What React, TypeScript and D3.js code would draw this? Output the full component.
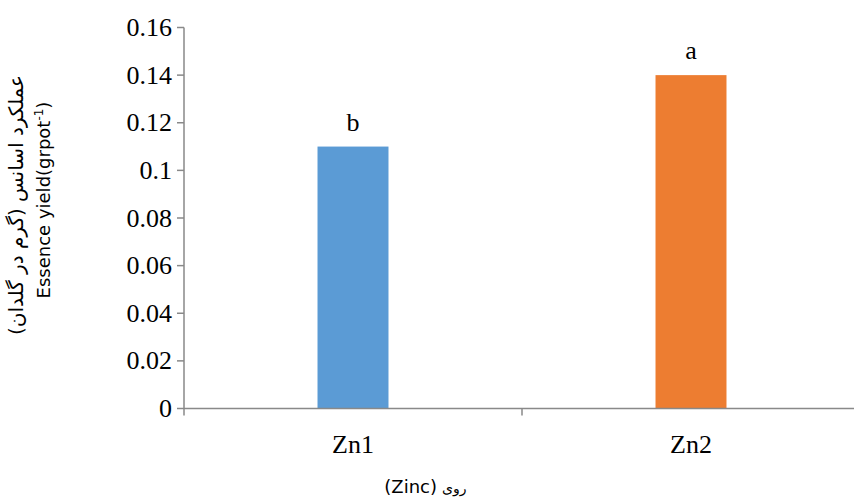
import React from "react";
import * as d3 from "d3";

const categories = ["Zn1", "Zn2"];
const values = [0.11, 0.14];
const letters = ["b", "a"];
const colors = ["#5B9BD5", "#ED7D31"];
const yTicks = [0, 0.02, 0.04, 0.06, 0.08, 0.1, 0.12, 0.14, 0.16];
const yTitleFa = "عملکرد اسانس (گرم در گلدان)";
const yTitleEn = "Essence yield(grpot";
const xTitleEn = "(Zinc)";
const xTitleFa = "روی";

export default function App() {
  const W = 854, H = 499;
  const left = 184, right = 860, top = 27.5, bottom = 408.5;
  const x = d3.scaleBand<string>().domain(categories).range([left, right]).paddingInner(0).paddingOuter(0);
  const y = d3.scaleLinear().domain([0, 0.16]).range([bottom, top]);
  const bw = x.bandwidth() * 0.21;
  const axisColor = "#898989";
  const serif = "'Liberation Serif', 'Times New Roman', serif";
  const sans = "'DejaVu Sans', 'Noto Sans', sans-serif";
  const fmt = (v: number) => (v === 0 ? "0" : String(+v.toFixed(2)));
  const fs = 26;
  return (
    <svg width={W} height={H} style={{ position: "absolute", left: 0, top: 0, background: "#fff" }}>
      <rect width={W} height={H} fill="#fff" />
      {categories.map((c, i) => {
        const cx = x(c)! + x.bandwidth() / 2;
        return (
          <g key={c}>
            <rect x={cx - bw / 2} y={y(values[i])} width={bw} height={bottom - y(values[i])} fill={colors[i]} />
            <text x={cx} y={y(values[i]) - 16} textAnchor="middle" fontFamily={serif} fontSize={fs} fill="#000">
              {letters[i]}
            </text>
            <text x={cx} y={bottom + 44} textAnchor="middle" fontFamily={serif} fontSize={fs} fill="#000">
              {c}
            </text>
          </g>
        );
      })}
      <line x1={left} x2={left} y1={top} y2={bottom} stroke={axisColor} strokeWidth={1.5} />
      {yTicks.map((t) => (
        <g key={t}>
          <line x1={left - 7} x2={left} y1={y(t)} y2={y(t)} stroke={axisColor} strokeWidth={1.5} />
          <text x={left - 12} y={y(t)} dy="0.33em" textAnchor="end" fontFamily={serif} fontSize={fs} fill="#000">
            {fmt(t)}
          </text>
        </g>
      ))}
      <line x1={left} x2={right} y1={bottom} y2={bottom} stroke={axisColor} strokeWidth={1.5} />
      {[left, x(categories[1])!].map((px, i) => (
        <line key={i} x1={px} x2={px} y1={bottom} y2={bottom + 7} stroke={axisColor} strokeWidth={1.5} />
      ))}
      <text
        transform={`translate(23, 205) rotate(-90)`}
        textAnchor="middle"
        fontFamily={sans}
        fontSize={20}
        fill="#000"
        style={{ direction: "rtl", unicodeBidi: "embed" } as any}
      >
        {yTitleFa}
      </text>
      <text transform={`translate(50, 200) rotate(-90)`} textAnchor="middle" fontFamily={sans} fontSize={18} fill="#000">
        {yTitleEn}
        <tspan fontSize={12} dy={-7}>-1</tspan>
        <tspan dy={7}>)</tspan>
      </text>
      <text x={437} y={493} textAnchor="end" fontFamily={sans} fontSize={18} fill="#000">
        {xTitleEn}
      </text>
      <text x={442} y={493} textAnchor="start" fontFamily={sans} fontSize={14} fill="#000">
        {xTitleFa}
      </text>
    </svg>
  );
}
